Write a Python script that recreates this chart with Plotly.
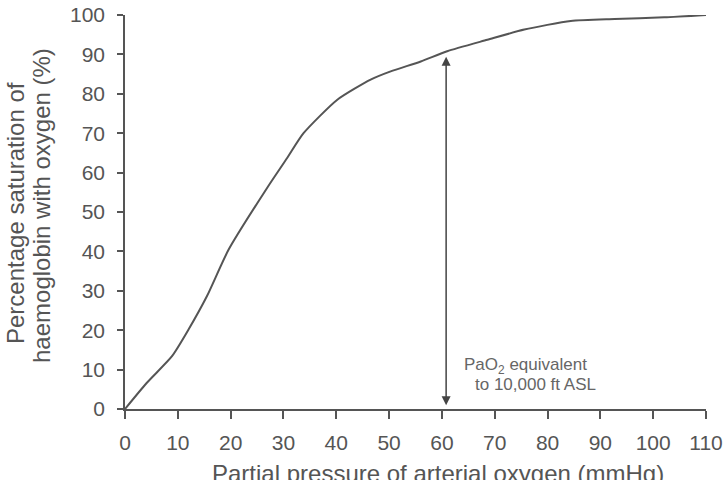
import plotly.graph_objects as go

# Oxygen-haemoglobin dissociation curve
po2 = [0, 4.1, 8.9, 12.0, 15.5, 19.6, 26.9, 30.7, 33.8, 40.2, 46.5, 50.3, 56.0, 61.0, 68.6, 75.6, 84.4, 92.7, 102.1, 110]
saturation = [0, 6.6, 13.4, 20.1, 28.6, 40.4, 56.1, 63.7, 70.0, 78.5, 83.6, 85.7, 88.2, 90.8, 93.7, 96.3, 98.5, 99.0, 99.4, 100]

x_ticks = [0, 10, 20, 30, 40, 50, 60, 70, 80, 90, 100, 110]
y_ticks = [0, 10, 20, 30, 40, 50, 60, 70, 80, 90, 100]

arrow_po2 = 60.8
arrow_span = [0.6, 89.4]

note_lines = ["PaO<sub>2</sub> equivalent", "to 10,000 ft ASL"]
note_x = [75.8, 77.7]
note_y = [10.9, 6.3]

FONT = "Liberation Sans, Arial, sans-serif"
GREY = "#555555"

fig = go.Figure()
fig.add_trace(go.Scatter(x=po2, y=saturation, mode="lines",
                         line=dict(color=GREY, width=2, shape="spline", smoothing=0.6),
                         showlegend=False, hoverinfo="skip"))

fig.add_annotation(x=arrow_po2, y=arrow_span[1], ax=arrow_po2, ay=arrow_span[0],
                   xref="x", yref="y", axref="x", ayref="y", text="",
                   showarrow=True, arrowhead=2, arrowside="end+start",
                   arrowsize=1.2, arrowwidth=1.5, arrowcolor="#444444",
                   standoff=0, startstandoff=0)

for t, xx, yy in zip(note_lines, note_x, note_y):
    fig.add_annotation(x=xx, y=yy, xref="x", yref="y", text=t, showarrow=False,
                       font=dict(family=FONT, size=17, color="#666666"),
                       xanchor="center", yanchor="middle")

# axis titles as annotations to control placement
fig.add_annotation(x=0.539, y=0, xref="paper", yref="paper", yshift=-64,
                   text="Partial pressure of arterial oxygen (mmHg)", showarrow=False,
                   font=dict(family=FONT, size=24, color=GREY),
                   xanchor="center", yanchor="middle")
fig.add_annotation(x=0, y=0.5, xref="paper", yref="paper", xshift=-110, yshift=-1,
                   text="Percentage saturation of", showarrow=False, textangle=-90,
                   font=dict(family=FONT, size=24, color=GREY),
                   xanchor="center", yanchor="middle")
fig.add_annotation(x=0, y=0.5, xref="paper", yref="paper", xshift=-84, yshift=6,
                   text="haemoglobin with oxygen (%)", showarrow=False, textangle=-90,
                   font=dict(family=FONT, size=24, color=GREY),
                   xanchor="center", yanchor="middle")

axis_common = dict(showgrid=False, zeroline=False, showline=True, linecolor=GREY,
                   linewidth=1.5, ticks="outside", tickcolor=GREY, tickwidth=1.5,
                   ticklabeloverflow="allow", automargin=False,
                   tickfont=dict(family=FONT, size=21, color=GREY))

fig.update_xaxes(range=[0, 110], tickvals=x_ticks, ticklen=8, ticklabelstandoff=6,
                 **axis_common)
fig.update_yaxes(range=[0, 100], tickvals=y_ticks, ticklen=6, ticklabelstandoff=8,
                 **axis_common)

fig.update_layout(width=723, height=480, margin=dict(l=125, r=17, t=15, b=71),
                  paper_bgcolor="white", plot_bgcolor="white",
                  font=dict(family=FONT, color=GREY))

fig.write_html("out.html")
